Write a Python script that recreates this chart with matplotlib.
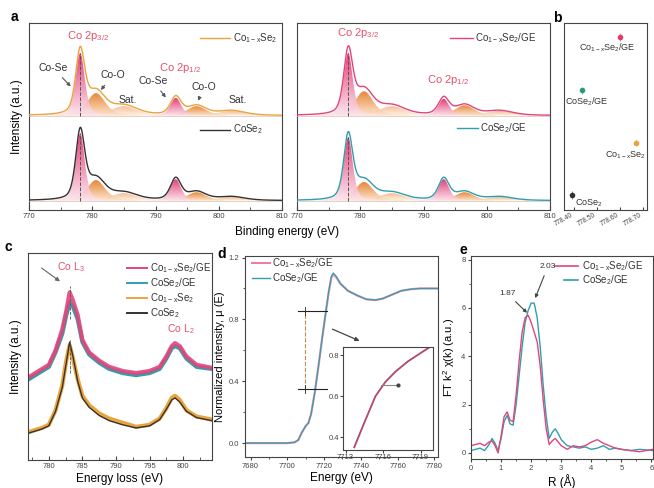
import numpy as np
import matplotlib
matplotlib.use('Agg')
import matplotlib.pyplot as plt
from matplotlib.colors import LinearSegmentedColormap

plt.rcParams['font.family'] = ['Liberation Sans', 'DejaVu Sans']
plt.rcParams['mathtext.default'] = 'regular'
plt.rcParams['axes.linewidth'] = 0.8
plt.rcParams['axes.edgecolor'] = '#444444'
plt.rcParams['xtick.color'] = '#444444'
plt.rcParams['ytick.color'] = '#444444'
plt.rcParams['xtick.labelsize'] = 5.5
plt.rcParams['ytick.labelsize'] = 5.5

# ---------------- data ----------------
# (a) XPS Co 2p fitted components: centre (eV), FWHM (eV), kind
xps_centres = [778.1, 780.6, 785.0, 793.2, 796.5, 802.0]
xps_fwhm = [1.7, 3.4, 5.0, 2.0, 3.6, 5.0]
xps_kind = ['CoSe', 'CoO', 'Sat', 'CoSe', 'CoO', 'Sat']
h_Co1xSe2 = [0.335, 0.12, 0.05, 0.095, 0.05, 0.025]
h_CoSe2 = [0.36, 0.11, 0.04, 0.115, 0.045, 0.02]
h_Co1xSe2_GE = [0.335, 0.13, 0.05, 0.09, 0.055, 0.025]
h_CoSe2_GE = [0.34, 0.10, 0.04, 0.115, 0.045, 0.02]
base_upper = 0.505
base_lower = 0.05

# (b) Co 2p3/2 peak positions
b_labels = ['CoSe$_2$', 'CoSe$_2$/GE', 'Co$_{1-x}$Se$_2$/GE', 'Co$_{1-x}$Se$_2$']
b_be = [778.39, 778.435, 778.60, 778.67]
b_row = [0.08, 0.64, 0.925, 0.36]
b_ticks = [778.40, 778.50, 778.60, 778.70]

# (c) EELS
c_E = [777, 779, 780, 781, 782, 782.6, 783.1, 783.6, 784.3, 785, 786, 787.5, 789,
       791, 793, 795, 796.5, 797.5, 798.3, 798.8, 799.5, 800.5, 802, 804.3]
c_pink = [0.40, 0.44, 0.46, 0.53, 0.63, 0.72, 0.81, 0.77, 0.70, 0.58, 0.52, 0.48, 0.45,
          0.43, 0.42, 0.43, 0.45, 0.50, 0.55, 0.565, 0.55, 0.50, 0.46, 0.445]
c_teal = [0.39, 0.43, 0.45, 0.52, 0.61, 0.70, 0.76, 0.74, 0.68, 0.57, 0.51, 0.47, 0.44,
          0.42, 0.41, 0.42, 0.44, 0.49, 0.54, 0.55, 0.54, 0.49, 0.45, 0.44]
c_orange = [0.135, 0.155, 0.17, 0.24, 0.36, 0.48, 0.555, 0.49, 0.39, 0.31, 0.265, 0.225, 0.20,
            0.18, 0.16, 0.17, 0.20, 0.25, 0.30, 0.31, 0.29, 0.24, 0.21, 0.195]
c_black = [0.13, 0.15, 0.165, 0.235, 0.35, 0.47, 0.57, 0.50, 0.38, 0.30, 0.255, 0.215, 0.19,
           0.17, 0.155, 0.165, 0.195, 0.245, 0.29, 0.30, 0.28, 0.235, 0.205, 0.19]

# (d) XANES
d_E = [7677, 7690, 7700, 7704, 7706, 7708, 7710, 7711.5, 7713, 7715, 7717, 7719, 7721,
       7722.5, 7724, 7725, 7726.5, 7729, 7733, 7738, 7743, 7748, 7752, 7757, 7762, 7767, 7772, 7782]
d_teal = [0.0, 0.0, 0.0, 0.005, 0.02, 0.07, 0.11, 0.13, 0.19, 0.33, 0.50, 0.68, 0.85,
          0.98, 1.08, 1.10, 1.08, 1.03, 0.985, 0.955, 0.93, 0.925, 0.935, 0.96, 0.985, 0.995, 1.0, 1.0]
d_pink = [0.0, 0.0, 0.0, 0.005, 0.02, 0.07, 0.11, 0.13, 0.19, 0.33, 0.50, 0.68, 0.85,
          0.97, 1.07, 1.09, 1.075, 1.03, 0.985, 0.955, 0.93, 0.925, 0.935, 0.96, 0.985, 0.995, 1.0, 1.0]
ins_E = [7713.7, 7714.5, 7715.4, 7716.2, 7717.0, 7718.0, 7719.0, 7720.0]
ins_mu = [0.35, 0.47, 0.60, 0.67, 0.72, 0.77, 0.81, 0.85]

# (e) FT-EXAFS
e_R = [0, 0.15, 0.3, 0.45, 0.6, 0.7, 0.8, 0.9, 1.0, 1.1, 1.2, 1.3, 1.4, 1.5, 1.6, 1.7, 1.8,
       1.9, 2.0, 2.1, 2.2, 2.3, 2.4, 2.5, 2.6, 2.7, 2.8, 2.9, 3.0, 3.2, 3.4, 3.6, 3.8, 4.0,
       4.2, 4.4, 4.6, 4.8, 5.0, 5.3, 5.6, 6.05]
e_teal = [0.1, 0.15, 0.2, 0.1, 0.35, 0.6, 0.4, 0.1, 0.6, 1.3, 1.55, 1.2, 1.15, 2.0, 3.2, 4.4, 5.4,
          5.9, 6.2, 6.2, 5.6, 4.4, 2.8, 1.5, 0.6, 0.85, 1.0, 0.8, 0.55, 0.3, 0.25, 0.2, 0.25, 0.15,
          0.2, 0.3, 0.15, 0.2, 0.15, 0.1, 0.15, 0.1]
e_pink = [0.3, 0.35, 0.4, 0.3, 0.45, 0.5, 0.3, 0.0, 0.7, 1.5, 1.7, 1.35, 1.3, 2.4, 3.8, 5.0, 5.6,
          5.7, 5.4, 5.0, 4.6, 3.6, 2.2, 1.0, 0.35, 0.5, 0.6, 0.45, 0.3, 0.15, 0.3, 0.25, 0.3, 0.45,
          0.55, 0.4, 0.3, 0.2, 0.15, 0.1, 0.05, 0.15]

# colours
C_OR = '#eba33c'
C_BK = '#333333'
C_PK = '#e2457a'
C_TL = '#2f9fae'
C_RED = '#e8506a'

fig = plt.figure(figsize=(6.54, 4.88), dpi=100)
W, H = 654.0, 488.0


def rect(x0, x1, ytop, ybot):
    return [x0 / W, 1 - ybot / H, (x1 - x0) / W, (ybot - ytop) / H]


def pv(x, c, w, h, eta=0.45):
    g = np.exp(-4 * np.log(2) * ((x - c) / w) ** 2)
    l = 1.0 / (1 + 4 * ((x - c) / w) ** 2)
    return h * (eta * l + (1 - eta) * g)


grad_cols = {'CoSe': ('#e02c68', '#fde6ee'), 'CoO': ('#e57a22', '#fde6d0'),
             'Sat': ('#f4b98a', '#fff4ea')}


def grad_fill(ax, x, y0, y1, kind, z):
    top, bot = grad_cols[kind]
    poly = ax.fill_between(x, y0, y1, facecolor='none', edgecolor='none')
    path = poly.get_paths()[0]
    cmap = LinearSegmentedColormap.from_list('g', [bot, top])
    grad = np.linspace(0, 1, 256).reshape(-1, 1)
    im = ax.imshow(grad, extent=[x.min(), x.max(), y0.min(), y1.max()], origin='lower',
                   aspect='auto', cmap=cmap, zorder=z, alpha=0.9)
    im.set_clip_path(path, transform=ax.transData)


def xps(ax, heights, base, color, E):
    total = np.full_like(E, base)
    for c, w, h, k in zip(xps_centres, xps_fwhm, heights, xps_kind):
        comp = pv(E, c, w, h)
        total = total + comp
        m = comp > 0.003
        z = {'Sat': 1, 'CoO': 2, 'CoSe': 3}[k]
        grad_fill(ax, E[m], np.full(m.sum(), base), base + comp[m], k, z)
    ax.plot(E, np.full_like(E, base), color='#d8c0b0', lw=0.5, zorder=3)
    ax.plot(E, total, color=color, lw=1.0, zorder=5)
    ax.plot([xps_centres[0]] * 2, [base, base + heights[0]], ls='--', color='#555555',
            lw=0.7, zorder=6)


E = np.linspace(770, 810, 801)

# ---- panel a ----
axL = fig.add_axes(rect(29, 282, 23, 210))
axR = fig.add_axes(rect(297, 550, 23, 210))
for ax, up, lo, cu, cl in [(axL, h_Co1xSe2, h_CoSe2, C_OR, C_BK),
                           (axR, h_Co1xSe2_GE, h_CoSe2_GE, C_PK, C_TL)]:
    xps(ax, up, base_upper, cu, E)
    xps(ax, lo, base_lower, cl, E)
    ax.set_xlim(770, 810)
    ax.set_ylim(0, 1.0)
    ax.set_yticks([])
    ax.set_xticks([770, 780, 790, 800, 810])
    ax.set_xticks([775, 785, 795, 805], minor=True)
    ax.tick_params(axis='x', which='both', direction='in', top=False, length=3, pad=2)
    ax.tick_params(axis='x', which='minor', length=2)

axL.set_ylabel('Intensity (a.u.)', fontsize=8.5, labelpad=4)
fig.text(287 / W, 1 - 232 / H, 'Binding energy (eV)', fontsize=8.5, ha='center', va='center')

# legends in a
for ax, x0, x1, xt, y, col, lab in [
        (axL, 797.0, 801.8, 802.3, 0.92, C_OR, 'Co$_{1-x}$Se$_2$'),
        (axL, 797.0, 801.8, 802.3, 0.43, C_BK, 'CoSe$_2$'),
        (axR, 794.2, 797.8, 798.2, 0.92, C_PK, 'Co$_{1-x}$Se$_2$/GE'),
        (axR, 795.3, 798.6, 799.0, 0.44, C_TL, 'CoSe$_2$/GE')]:
    ax.plot([x0, x1], [y, y], color=col, lw=1.0)
    ax.text(xt, y, lab, fontsize=7, va='center', ha='left', color='#333333')

fs_ann = 7.5
axL.text(779.3, 0.93, 'Co 2p$_{3/2}$', color=C_RED, fontsize=8, ha='center', va='center')
axL.text(793.9, 0.76, 'Co 2p$_{1/2}$', color=C_RED, fontsize=8, ha='center', va='center')
aprops = dict(arrowstyle='-|>', color='#555555', lw=0.8, mutation_scale=5)
axL.annotate('Co-Se', xy=(776.9, 0.65), xytext=(773.8, 0.76), fontsize=fs_ann,
             ha='center', va='center', arrowprops=aprops, color='#333333')
axL.annotate('Co-O', xy=(781.1, 0.63), xytext=(783.2, 0.72), fontsize=fs_ann,
             ha='center', va='center', arrowprops=aprops, color='#333333')
axL.text(785.6, 0.59, 'Sat.', fontsize=fs_ann, ha='center', va='center', color='#333333')
axL.annotate('Co-Se', xy=(791.9, 0.59), xytext=(789.6, 0.69), fontsize=fs_ann,
             ha='center', va='center', arrowprops=aprops, color='#333333')
axL.annotate('Co-O', xy=(796.6, 0.57), xytext=(797.6, 0.66), fontsize=fs_ann,
             ha='center', va='center', arrowprops=aprops, color='#333333')
axL.text(803.0, 0.59, 'Sat.', fontsize=fs_ann, ha='center', va='center', color='#333333')
axR.text(779.6, 0.945, 'Co 2p$_{3/2}$', color=C_RED, fontsize=8, ha='center', va='center')
axR.text(793.9, 0.695, 'Co 2p$_{1/2}$', color=C_RED, fontsize=8, ha='center', va='center')

# ---- panel b ----
axb = fig.add_axes(rect(564, 647, 23, 210))
b_cols = [C_BK, '#2a9a78', '#e03c68', C_OR]
for xv, yv, col in zip(b_be, b_row, b_cols):
    axb.errorbar([xv], [yv], xerr=0.008, yerr=0.02, fmt='o', ms=3, color=col,
                 ecolor=col, elinewidth=0.4, alpha=1, capsize=0)
axb.set_xlim(778.357, 778.718)
axb.set_ylim(0, 1)
axb.set_yticks([])
axb.set_xticks(b_ticks)
axb.set_xticklabels(['%.2f' % t for t in b_ticks], rotation=30, ha='right', fontsize=4.8)
axb.tick_params(axis='x', direction='in', length=2.5, pad=1)
axb.text(778.544, 0.866, b_labels[2], fontsize=6.5, ha='center', va='center', color='#333333')
axb.text(778.362, 0.578, b_labels[1], fontsize=6.5, ha='left', va='center', color='#333333')
axb.text(778.714, 0.294, b_labels[3], fontsize=6.5, ha='right', va='center', color='#333333')
axb.text(778.405, 0.035, b_labels[0], fontsize=6.5, ha='left', va='center', color='#333333')

# ---- panel c ----
axc = fig.add_axes(rect(28, 212, 253, 460))
axc.plot(c_E, c_teal, color=C_TL, lw=3.0, solid_joinstyle='round')
axc.plot(c_E, c_pink, color=C_PK, lw=3.0, alpha=0.9, solid_joinstyle='round')
axc.plot(c_E, c_orange, color=C_OR, lw=3.0, solid_joinstyle='round')
axc.plot(c_E, c_black, color=C_BK, lw=1.0, solid_joinstyle='round')
axc.set_xlim(776.9, 804.3)
axc.set_ylim(0, 1)
axc.set_yticks([])
axc.set_xticks([780, 785, 790, 795, 800])
axc.set_xticks([777.5, 782.5, 787.5, 792.5, 797.5, 802.5], minor=True)
axc.tick_params(axis='x', which='both', direction='in', length=3, pad=2)
axc.tick_params(axis='x', which='minor', length=2)
axc.set_ylabel('Intensity (a.u.)', fontsize=8.5, labelpad=4)
axc.set_xlabel('Energy loss (eV)', fontsize=8.5, labelpad=2)
for yy, col, lab in [(0.928, C_PK, 'Co$_{1-x}$Se$_2$/GE'), (0.855, C_TL, 'CoSe$_2$/GE'),
                     (0.783, C_OR, 'Co$_{1-x}$Se$_2$'), (0.71, C_BK, 'CoSe$_2$')]:
    axc.plot([0.538, 0.647], [yy, yy], color=col, lw=1.4, transform=axc.transAxes)
    axc.text(0.663, yy, lab, fontsize=7, va='center', ha='left', color='#333333',
             transform=axc.transAxes)
axc.text(783.3, 0.93, 'Co L$_3$', color=C_RED, fontsize=7.5, ha='center', va='center')
axc.annotate('', xy=(782.0, 0.855), xytext=(778.6, 0.935),
             arrowprops=dict(arrowstyle='-|>', color='#666666', lw=0.8, mutation_scale=6))
axc.text(799.6, 0.63, 'Co L$_2$', color=C_RED, fontsize=7.5, ha='center', va='center')
axc.plot([783.1, 783.1], [0.68, 0.84], ls='--', color='#555555', lw=0.6)
axc.plot([783.1, 783.1], [0.42, 0.58], ls='--', color='#555555', lw=0.6)

# ---- panel d ----
axd = fig.add_axes(rect(245, 438, 256, 457))
axd.plot(d_E, d_pink, color=C_PK, lw=1.6, alpha=0.6)
axd.plot(d_E, d_teal, color=C_TL, lw=0.9)
axd.set_xlim(7677, 7782)
axd.set_ylim(-0.09, 1.21)
axd.set_xticks([7680, 7700, 7720, 7740, 7760, 7780])
axd.set_xticks([7690, 7710, 7730, 7750, 7770], minor=True)
axd.set_yticks([0.0, 0.4, 0.8, 1.2])
axd.set_yticks([0.2, 0.6, 1.0], minor=True)
axd.set_yticklabels(['0.0', '0.4', '0.8', '1.2'])
axd.tick_params(which='both', direction='out', length=2.5, pad=1.5)
axd.tick_params(which='minor', length=1.5)
axd.set_xlabel('Energy (eV)', fontsize=8.5, labelpad=2)
axd.set_ylabel('Normalized intensity, μ (E)', fontsize=8, labelpad=3)
axd.plot([0.036, 0.13], [0.965, 0.965], color=C_PK, lw=1.4, alpha=0.7, transform=axd.transAxes)
axd.text(0.14, 0.965, 'Co$_{1-x}$Se$_2$/GE', fontsize=7, va='center', transform=axd.transAxes,
         color='#333333')
axd.plot([0.036, 0.13], [0.89, 0.89], color=C_TL, lw=1.0, transform=axd.transAxes)
axd.text(0.14, 0.89, 'CoSe$_2$/GE', fontsize=7, va='center', transform=axd.transAxes,
         color='#333333')
axd.plot([7705.8, 7721.6], [0.854, 0.854], color='#222222', lw=0.8)
axd.plot([7705.8, 7721.6], [0.35, 0.35], color='#222222', lw=0.8)
axd.plot([7709.6, 7709.6], [0.35, 0.854], ls='--', color='#c08a50', lw=0.8)
axd.plot([7709.6, 7709.6], [0.83, 0.88], color='#222222', lw=0.6)
axd.plot([7709.6, 7709.6], [0.325, 0.375], color='#222222', lw=0.6)
axd.annotate('', xy=(7740.7, 0.654), xytext=(7723.2, 0.744),
             arrowprops=dict(arrowstyle='-|>', color='#444444', lw=0.9, mutation_scale=6))

axi = fig.add_axes(rect(343, 433, 347, 450))
axi.plot(ins_E, ins_mu, color='#9a4a6a', lw=1.3)
axi.plot(ins_E, ins_mu, color=C_PK, lw=0.6, alpha=0.7)
axi.plot([7715.8, 7717.2], [0.655, 0.655], color='#888888', lw=0.8)
axi.plot([7717.2], [0.655], 'o', ms=2, color='#444444')
axi.set_xlim(7712.8, 7720.0)
axi.set_ylim(0.337, 0.84)
axi.set_xticks([7713, 7716, 7719])
axi.set_yticks([0.4, 0.6, 0.8])
axi.set_yticklabels(['0.4', '0.6', '0.8'])
axi.tick_params(which='both', direction='out', length=2, pad=1, labelsize=5.5)

# ---- panel e ----
axe = fig.add_axes(rect(471, 653, 256, 459))
axe.plot(e_R, e_teal, color=C_TL, lw=1.0)
axe.plot(e_R, e_pink, color=C_PK, lw=1.0)
axe.set_xlim(0, 6.05)
axe.set_ylim(-0.25, 8.15)
axe.set_xticks([0, 1, 2, 3, 4, 5, 6])
axe.set_xticks([0.5, 1.5, 2.5, 3.5, 4.5, 5.5], minor=True)
axe.set_yticks([0, 2, 4, 6, 8])
axe.set_yticks([1, 3, 5, 7], minor=True)
axe.tick_params(which='both', direction='out', length=2.5, pad=1.5)
axe.tick_params(which='minor', length=1.5)
axe.set_xlabel('R (Å)', fontsize=8.5, labelpad=2)
axe.set_ylabel('FT k$^2$ χ(k) (a.u.)', fontsize=8, labelpad=3)
axe.plot([0.46, 0.59], [0.951, 0.951], color=C_PK, lw=1.2, transform=axe.transAxes)
axe.text(0.61, 0.951, 'Co$_{1-x}$Se$_2$/GE', fontsize=7, va='center', transform=axe.transAxes,
         color='#333333')
axe.plot([0.51, 0.59], [0.88, 0.88], color=C_TL, lw=1.2, transform=axe.transAxes)
axe.text(0.61, 0.88, 'CoSe$_2$/GE', fontsize=7, va='center', transform=axe.transAxes,
         color='#333333')
axe.annotate('1.87', xy=(1.93, 5.72), xytext=(1.2, 6.6), fontsize=6, ha='center', va='center',
             arrowprops=dict(arrowstyle='-|>', color='#444444', lw=0.8, mutation_scale=5),
             color='#333333')
axe.annotate('2.03', xy=(2.1, 6.3), xytext=(2.55, 7.7), fontsize=6, ha='center', va='center',
             arrowprops=dict(arrowstyle='-|>', color='#444444', lw=0.8, mutation_scale=5),
             color='#333333')

# panel letters
for x, y, s in [(14, 17, 'a'), (557, 18, 'b'), (8, 247, 'c'), (222, 254, 'd'), (463, 250, 'e')]:
    fig.text(x / W, 1 - y / H, s, fontsize=10, fontweight='bold', ha='center', va='center')

fig.savefig('out.png', dpi=100)
